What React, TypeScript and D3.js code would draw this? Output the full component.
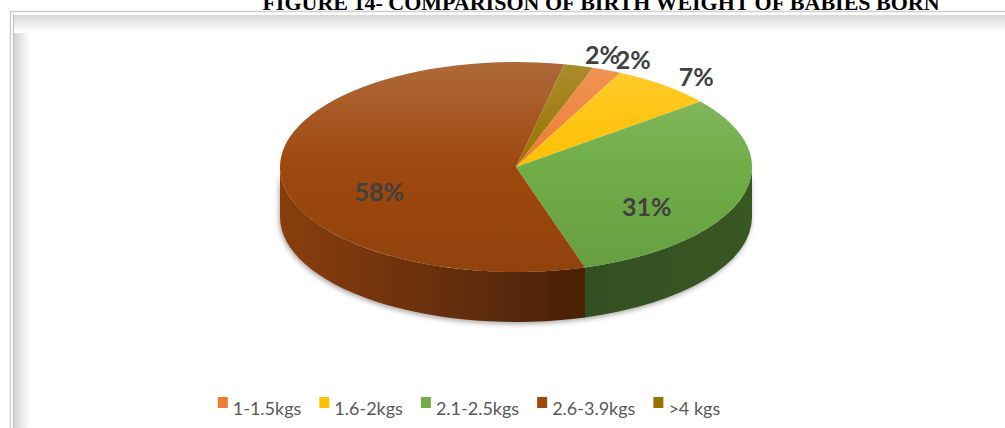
import { useMemo } from "react";
import * as d3 from "d3";

const categories = ["1-1.5kgs", "1.6-2kgs", "2.1-2.5kgs", "2.6-3.9kgs", ">4 kgs"];
const shares = [2, 7, 31, 58, 2];
const colors = ["#ED7D31", "#FFC000", "#70AD47", "#9E480E", "#997300"];
const TITLE = "FIGURE 14- COMPARISON OF BIRTH WEIGHT OF BABIES BORN";

const WIDTH = 1005;
const HEIGHT = 428;
const CX = 516;
const CY = 167;
const RX = 236;
const RY = 105;
const DEPTH = 50;
const START = (19 * Math.PI) / 180;
const LABEL_FONT = "Lato, 'Noto Sans', sans-serif";

type Slice = d3.PieArcDatum<number> & { i: number };

const pt = (a: number, dy = 0) => [CX + RX * Math.sin(a), CY - RY * Math.cos(a) + dy];

const App = () => {
  const slices = useMemo(() => {
    const pie = d3.pie<number>().sort(null).startAngle(START).endAngle(START + 2 * Math.PI);
    return pie(shares).map((d, i) => ({ ...d, i })) as Slice[];
  }, []);

  // front half of the ellipse gets a wall
  const walls = useMemo(() => {
    const out: { i: number; d: string }[] = [];
    slices.forEach((s) => {
      [0, 2 * Math.PI].forEach((k) => {
        const a = Math.max(s.startAngle, Math.PI / 2 + k);
        const b = Math.min(s.endAngle, (3 * Math.PI) / 2 + k);
        if (b <= a) return;
        const [x0, y0] = pt(a);
        const [x1, y1] = pt(b);
        out.push({
          i: s.i,
          d: `M${x0},${y0} A${RX},${RY} 0 0 1 ${x1},${y1} L${x1},${y1 + DEPTH} A${RX},${RY} 0 0 0 ${x0},${y0 + DEPTH} Z`,
        });
      });
    });
    return out;
  }, [slices]);

  const tops = slices.map((s) => {
    const [x0, y0] = pt(s.startAngle);
    const [x1, y1] = pt(s.endAngle);
    const large = s.endAngle - s.startAngle > Math.PI ? 1 : 0;
    return `M${CX},${CY} L${x0},${y0} A${RX},${RY} 0 ${large} 1 ${x1},${y1} Z`;
  });

  const legend = useMemo(() => {
    const ctx = document.createElement("canvas").getContext("2d")!;
    ctx.font = `18px ${LABEL_FONT}`;
    const widths = categories.map((c) => ctx.measureText(c).width);
    const items: { x: number; w: number }[] = [];
    let x = 0;
    widths.forEach((w) => {
      items.push({ x, w });
      x += 15 + w + 18;
    });
    const total = x - 18;
    const x0 = 469 - total / 2;
    return items.map((it) => ({ ...it, x: it.x + x0 }));
  }, []);

  return (
    <svg width={WIDTH} height={HEIGHT} style={{ position: "absolute", left: 0, top: 0, background: "#fff" }}>
      <defs>
        <linearGradient id="shadeL" x1="0" x2="1" y1="0" y2="0">
          <stop offset="0" stopColor="#d2d2d2" />
          <stop offset="1" stopColor="#fff" />
        </linearGradient>
        <linearGradient id="shadeT" x1="0" x2="0" y1="0" y2="1">
          <stop offset="0" stopColor="#d8d8d8" />
          <stop offset="1" stopColor="#fff" />
        </linearGradient>
        {colors.map((c, i) => (
          <linearGradient key={"t" + i} id={"top" + i} gradientUnits="userSpaceOnUse" x1={0} x2={0} y1={CY - RY} y2={CY + RY}>
            <stop offset="0" stopColor={d3.interpolateRgb(c, "#fff")(0.18)} />
            <stop offset="0.5" stopColor={c} />
            <stop offset="1" stopColor={d3.color(c)!.darker(0.25).formatHex()} />
          </linearGradient>
        ))}
        {colors.map((c, i) => (
          <linearGradient key={"s" + i} id={"side" + i} gradientUnits="userSpaceOnUse" x1={CX - RX} x2={CX + RX} y1={0} y2={0}>
            <stop offset="0" stopColor={d3.color(c)!.darker(0.4).formatHex()} />
            <stop offset="0.65" stopColor={d3.color(c)!.darker(2.2).formatHex()} />
            <stop offset="1" stopColor={d3.color(c)!.darker(1.9).formatHex()} />
          </linearGradient>
        ))}
        <filter id="drop" x="-10%" y="-10%" width="120%" height="130%">
          <feDropShadow dx="-1" dy="2" stdDeviation="2.5" floodColor="#000" floodOpacity="0.35" />
        </filter>
      </defs>

      {/* frame */}
      <rect x={14} y={15} width={WIDTH} height={HEIGHT} fill="#fff" />
      <rect x={14} y={15} width={16} height={HEIGHT} fill="url(#shadeL)" />
      <rect x={14} y={15} width={WIDTH} height={18} fill="url(#shadeT)" />
      <rect x={10.5} y={11.5} width={WIDTH} height={HEIGHT} fill="none" stroke="#cfcfcf" strokeWidth={1.5} />
      <line x1={13.5} x2={13.5} y1={14} y2={HEIGHT} stroke="#c4c4c4" />

      <text x={601} y={10} textAnchor="middle" fontFamily="'Liberation Serif', 'Times New Roman', serif" fontWeight="bold" fontSize={22}>
        {TITLE}
      </text>

      <g filter="url(#drop)">
        {walls.map((w, k) => (
          <path key={k} d={w.d} fill={`url(#side${w.i})`} />
        ))}
      </g>
      <g>
        {tops.map((d, i) => (
          <path key={i} d={d} fill={`url(#top${i})`} />
        ))}
      </g>

      <g fontFamily={LABEL_FONT} fontWeight="bold" fontSize={25} fill="#404040">
        {slices.map((s) => {
          const mid = (s.startAngle + s.endAngle) / 2;
          if (s.data < 10) {
            const [x, y] = [CX + RX * 1.1 * Math.sin(mid), CY - RY * 1.1 * Math.cos(mid)];
            return (
              <text key={s.i} x={x} y={y} dy="0.35em" textAnchor="start">
                {s.data}%
              </text>
            );
          }
          const [x, y] = [CX + RX * 0.58 * Math.sin(mid), CY - RY * 0.58 * Math.cos(mid) + 22];
          return (
            <text key={s.i} x={x} y={y} dy="0.35em" textAnchor="middle">
              {s.data}%
            </text>
          );
        })}
      </g>

      <g fontFamily={LABEL_FONT} fontSize={18} fill="#595959">
        {legend.map((it, i) => (
          <g key={i}>
            <rect x={it.x} y={397} width={10} height={11} fill={colors[i]} />
            <text x={it.x + 15} y={415}>
              {categories[i]}
            </text>
          </g>
        ))}
      </g>
    </svg>
  );
};

export default App;
